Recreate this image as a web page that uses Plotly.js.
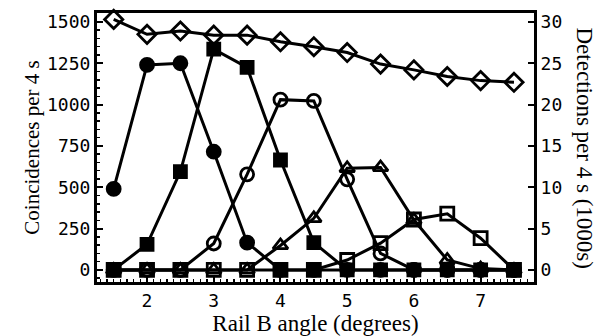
<!DOCTYPE html>
<html><head><meta charset="utf-8">
<script src="https://cdn.plot.ly/plotly-3.0.1.min.js"></script>
<style>html,body{margin:0;padding:0;background:#fff}#c{width:603px;height:336px}</style>
</head><body><div id="c"></div>
<script>
const angles = [1.5,2,2.5,3,3.5,4,4.5,5,5.5,6,6.5,7,7.5];
const filledCircles = [490,1240,1250,715,165,0,0,0,0,0,0,0,0];
const filledSquares = [0,155,595,1335,1225,665,165,0,0,0,0,0,0];
const openCircles = [0,0,0,160,578,1030,1022,548,100,0,0,0,0];
const openTriangles = [0,0,0,0,0,148,312,615,620,302,60,8,0];
const openSquares = [0,0,0,0,0,0,0,60,162,305,340,192,0];
const detections = [30.3,28.5,28.9,28.4,28.4,27.6,27.0,26.3,24.9,24.2,23.4,22.9,22.7];

const xTicks = [2,3,4,5,6,7];
const yTicks = [0,250,500,750,1000,1250,1500];
const y2Ticks = [0,5,10,15,20,25,30];

function tr(y, sym, size, extra) {
  return Object.assign({
    x: angles, y: y, type:'scatter', mode:'lines+markers',
    line: {color:'#000', width:3},
    marker: {symbol: sym, size: size, color:'#000', line:{color:'#000', width:2.8}},
    showlegend:false, cliponaxis:false
  }, extra||{});
}
const data = [
  tr(openSquares,'square-open',13),
  tr(openTriangles,'triangle-up-open',13),
  tr(openCircles,'circle-open',13),
  tr(filledSquares,'square',12),
  tr(filledCircles,'circle',13),
  tr(detections,'diamond-open',14,{yaxis:'y2'})
];
const tickFont = {family:'DejaVu Sans Mono', size:18, color:'#000'};
const layout = {
  width:603, height:336,
  margin:{l:97, r:69, t:13, b:54},
  paper_bgcolor:'#fff', plot_bgcolor:'#fff',
  xaxis:{
    range:[1.25,7.8], tickvals:xTicks, ticktext:xTicks.map(String),
    ticks:'inside', ticklen:6, tickwidth:2, tickcolor:'#000',
    minor:{dtick:0.1, ticks:'inside', ticklen:3, tickwidth:1.5, tickcolor:'#000'},
    showline:true, linewidth:3, linecolor:'#000', mirror:true,
    showgrid:false, zeroline:false, tickfont:tickFont,
    title:{text:'Rail B angle (degrees)', font:{family:'Liberation Serif', size:23, color:'#000'}, standoff:3}
  },
  yaxis:{
    range:[-73,1554], tickvals:yTicks, ticktext:yTicks.map(String),
    ticks:'inside', ticklen:6, tickwidth:2, tickcolor:'#000',
    minor:{dtick:50, ticks:'inside', ticklen:3, tickwidth:1.5, tickcolor:'#000'},
    showline:true, linewidth:3, linecolor:'#000',
    showgrid:false, zeroline:false, tickfont:tickFont,
    title:{text:'Coincidences per 4 s', font:{family:'Liberation Serif', size:21, color:'#000'}, standoff:2}
  },
  yaxis2:{
    overlaying:'y', side:'right',
    range:[-1.46,31.08], tickvals:y2Ticks, ticktext:y2Ticks.map(String),
    ticks:'inside', ticklen:6, tickwidth:2, tickcolor:'#000',
    showline:true, linewidth:3, linecolor:'#000',
    showgrid:false, zeroline:false, tickfont:tickFont
  },
  annotations:[{
    text:'Detections per 4 s (1000s)', textangle:90,
    xref:'paper', yref:'paper', x:1, y:0.5, xanchor:'center', yanchor:'middle',
    xshift:50, showarrow:false,
    font:{family:'Liberation Serif', size:23, color:'#000'}
  }]
};
Plotly.newPlot('c', data, layout, {staticPlot:true, displayModeBar:false});
</script></body></html>
